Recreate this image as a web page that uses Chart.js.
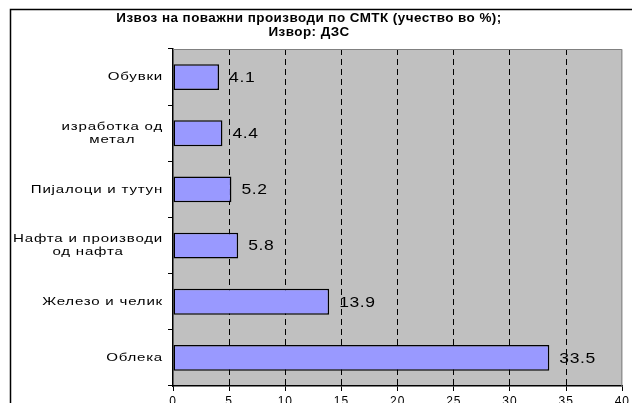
<!DOCTYPE html>
<html>
<head>
<meta charset="utf-8">
<script src="https://cdn.jsdelivr.net/npm/chart.js@4/dist/chart.umd.min.js"></script>
<style>
  html, body { margin: 0; padding: 0; background: #fff; }
  #wrap { width: 632px; height: 403px; }
</style>
</head>
<body>
<div id="wrap"><canvas id="exportChart"></canvas></div>
<script>
// data
const titleLines = ["Извоз на поважни производи по СМТК (учество во %);", "Извор: ДЗС"];
const categories = [
    ["Обувки"],
    ["изработка од", "метал"],
    ["Пијалоци и тутун"],
    ["Нафта и производи", "од нафта"],
    ["Железо и челик"],
    ["Облека"]
];
const shares = [4.1, 4.4, 5.2, 5.8, 13.9, 33.5];
const xTicks = [0, 5, 10, 15, 20, 25, 30, 35, 40];

const FONT = "'Liberation Sans', Arial, sans-serif";

// text drawn a bit stretched, like the old spreadsheet export
function wideText(ctx, text, x, y, align, stretch) {
    const w = ctx.measureText(text).width * stretch;
    let left = x;
    if (align === "center") left = x - w / 2;
    if (align === "right") left = x - w;
    ctx.save();
    ctx.translate(left, y);
    ctx.scale(stretch, 1);
    ctx.textAlign = "left";
    ctx.fillText(text, 0, 0);
    ctx.restore();
    return w;
}

// grey plot area, frame around the chart, title
const framePlugin = {
    id: "frame",
    beforeDraw(chart) {
        const ctx = chart.ctx, a = chart.chartArea;
        ctx.save();
        ctx.fillStyle = "#fff";
        ctx.fillRect(0, 0, chart.width, chart.height);
        ctx.strokeStyle = "#000";
        ctx.lineWidth = 1.5;
        ctx.strokeRect(10.5, 9.5, 800, 600);
        ctx.fillStyle = "#C0C0C0";
        ctx.fillRect(a.left, a.top, a.right - a.left, a.bottom - a.top);
        ctx.fillStyle = "#000";
        ctx.font = "bold 12px " + FONT;
        ctx.letterSpacing = "0.4px";
        ctx.textBaseline = "middle";
        wideText(ctx, titleLines[0], 309, 19, "center", 1.12);
        wideText(ctx, titleLines[1], 309, 33, "center", 1.12);
        ctx.restore();
        // slightly wide axis numbers too
        ctx.letterSpacing = "1px";
    },
    afterDraw(chart) {
        const ctx = chart.ctx, a = chart.chartArea;
        ctx.save();
        ctx.strokeStyle = "#808080";
        ctx.lineWidth = 1;
        ctx.beginPath();
        ctx.moveTo(a.left, a.top + 0.5);
        ctx.lineTo(a.right - 0.5, a.top + 0.5);
        ctx.lineTo(a.right - 0.5, a.bottom);
        ctx.stroke();

        // category labels: block right aligned, lines centred inside it
        const y = chart.scales.y;
        const stretch = 1.31;
        ctx.fillStyle = "#000";
        ctx.font = "11.5px " + FONT;
        ctx.letterSpacing = "0.6px";
        ctx.textBaseline = "middle";
        categories.forEach(function (lines, i) {
            const cy = y.getPixelForTick(i);
            let w = 0;
            lines.forEach(function (l) { w = Math.max(w, ctx.measureText(l).width * stretch); });
            const cx = a.left - 10 - w / 2;
            const start = cy - (lines.length - 1) * 13 / 2;
            lines.forEach(function (l, k) { wideText(ctx, l, cx, start + k * 13, "center", stretch); });
        });

        // value labels
        const meta = chart.getDatasetMeta(0);
        ctx.font = "14px " + FONT;
        ctx.letterSpacing = "0.5px";
        meta.data.forEach(function (bar, i) {
            wideText(ctx, shares[i].toFixed(1), bar.x + 10, bar.y + 1, "left", 1.25);
        });
        ctx.restore();
    }
};

let ctx = document.getElementById("exportChart").getContext("2d");
new Chart(ctx, {
    type: "bar",
    data: {
        labels: categories,
        datasets: [{
            data: shares,
            backgroundColor: "#9999FF",
            borderColor: "#000",
            borderWidth: 1.5,
            borderSkipped: false,
            categoryPercentage: 1,
            barPercentage: 0.46
        }]
    },
    options: {
        indexAxis: "y",
        responsive: true,
        maintainAspectRatio: false,
        animation: false,
        layout: { padding: { left: 0, right: 6, top: 49, bottom: 0 } },
        plugins: {
            legend: { display: false },
            title: { display: false },
            tooltip: { enabled: false }
        },
        scales: {
            x: {
                min: 0,
                max: 40,
                afterBuildTicks(scale) {
                    scale.ticks = xTicks.map(function (v) { return { value: v }; });
                },
                afterFit(scale) { scale.height = 17; },
                ticks: {
                    color: "#000",
                    font: { family: FONT, size: 12 },
                    padding: 3,
                    maxRotation: 0
                },
                grid: {
                    color: function (c) {
                        return (c.tick && (c.tick.value === 0 || c.tick.value === 40)) ? "rgba(0,0,0,0)" : "#000";
                    },
                    tickColor: "#000",
                    lineWidth: 1,
                    tickBorderDash: [],
                    tickLength: 5
                },
                border: { display: true, color: "#000", width: 1.5, dash: [6, 4] }
            },
            y: {
                afterFit(scale) { scale.width = 173; },
                ticks: {
                    color: "rgba(0,0,0,0)",
                    font: { family: FONT, size: 11 }
                },
                grid: {
                    offset: true,
                    drawOnChartArea: false,
                    color: "#000",
                    tickLength: 5
                },
                border: { display: true, color: "#000", width: 1.5 }
            }
        }
    },
    plugins: [framePlugin]
});
</script>
</body>
</html>
